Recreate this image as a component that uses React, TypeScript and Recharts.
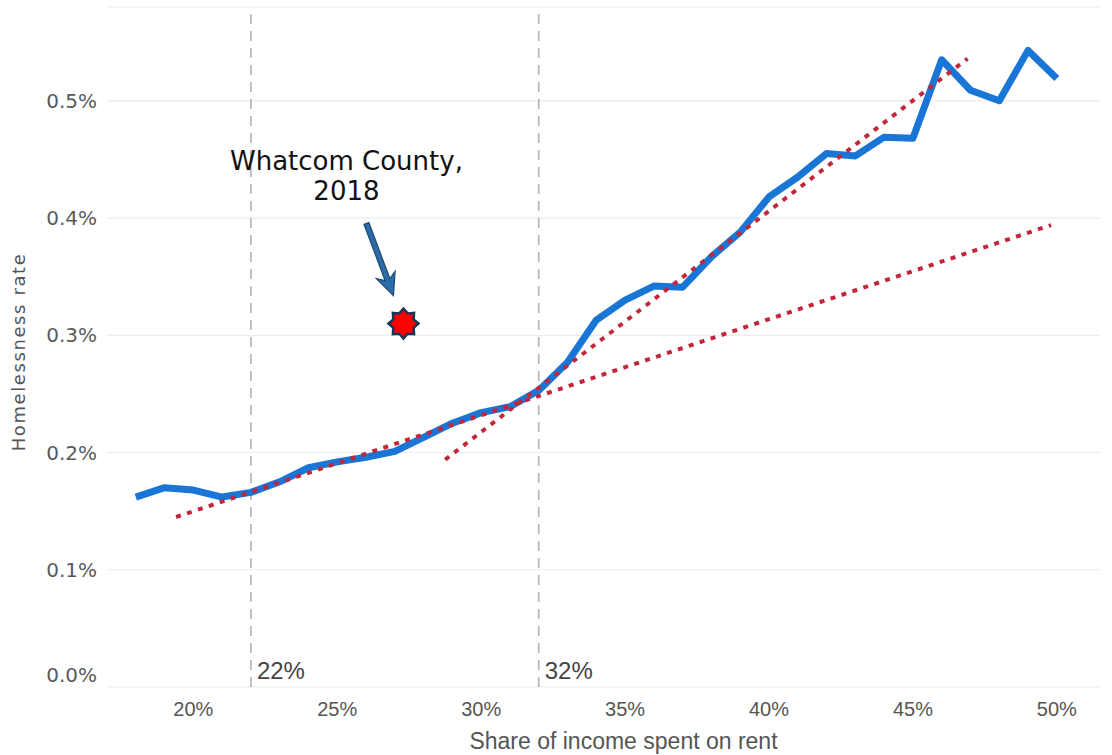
import React from "react";
import {
  ComposedChart,
  Line,
  Scatter,
  XAxis,
  YAxis,
  CartesianGrid,
  ReferenceLine,
} from "recharts";

// share of income spent on rent (%) and homelessness rate (%)
const rentShare = [
  18, 19, 20, 21, 22, 23, 24, 25, 26, 27, 28, 29, 30, 31, 32, 33, 34, 35, 36,
  37, 38, 39, 40, 41, 42, 43, 44, 45, 46, 47, 48, 49, 50,
];
const homelessRate = [
  0.162, 0.17, 0.168, 0.162, 0.166, 0.175, 0.187, 0.192, 0.196, 0.201, 0.213,
  0.225, 0.234, 0.239, 0.253, 0.277, 0.313, 0.33, 0.342, 0.341, 0.367, 0.388,
  0.418, 0.435, 0.455, 0.453, 0.469, 0.468, 0.535, 0.509, 0.5, 0.543, 0.519,
];

// dotted trend lines (start / end)
const lowTrendX = [19.4, 49.8];
const lowTrendY = [0.145, 0.394];
const highTrendX = [28.75, 46.9];
const highTrendY = [0.194, 0.536];

const breakpoints = [22, 32];
const xTicks = [20, 25, 30, 35, 40, 45, 50];
const yTicks = [0, 0.1, 0.2, 0.3, 0.4, 0.5];

const whatcomX = 27.3;
const whatcomY = 0.31;
const whatcomLabel = ["Whatcom County,", "2018"];

const series = rentShare.map((x, i) => ({ x, y: homelessRate[i] }));
const lowTrend = lowTrendX.map((x, i) => ({ x, y: lowTrendY[i] }));
const highTrend = highTrendX.map((x, i) => ({ x, y: highTrendY[i] }));
const whatcom = [{ x: whatcomX, y: whatcomY }];

const BLUE = "#1a76d6";
const RED = "#c2263a";

function YTick({ x, y, payload }: any) {
  // ggplot-ish: bottom label sits a little higher
  const yy = payload.value === 0 ? y - 12 : y;
  return (
    <text
      x={x}
      y={yy}
      dy={7}
      textAnchor="end"
      fill="#5a5a5a"
      fontSize={20}
      fontFamily="DejaVu Sans, sans-serif"
    >
      {payload.value.toFixed(1)}%
    </text>
  );
}

function starPoints(cx: number, cy: number, ro: number, ri: number) {
  const pts: string[] = [];
  for (let i = 0; i < 16; i++) {
    const r = i % 2 === 0 ? ro : ri;
    const a = (Math.PI / 8) * i - Math.PI / 2;
    pts.push(`${cx + r * Math.cos(a)},${cy + r * Math.sin(a)}`);
  }
  return pts.join(" ");
}

function arrowPoints(tx: number, ty: number, px: number, py: number) {
  const len = Math.hypot(px - tx, py - ty);
  const dx = (px - tx) / len;
  const dy = (py - ty) / len;
  const nx = -dy;
  const ny = dx;
  const w = 2.6;
  const hw = 10;
  const hl = 22;
  const bx = px - dx * hl;
  const by = py - dy * hl;
  const nb = 5; // notch
  const p = [
    [tx + nx * w, ty + ny * w],
    [bx + dx * nb + nx * w, by + dy * nb + ny * w],
    [bx + nx * hw, by + ny * hw],
    [px, py],
    [bx - nx * hw, by - ny * hw],
    [bx + dx * nb - nx * w, by + dy * nb - ny * w],
    [tx - nx * w, ty - ny * w],
  ];
  return p.map((q) => q.join(",")).join(" ");
}

function WhatcomMarker({ cx, cy }: any) {
  if (cx == null || cy == null) return null;
  return (
    <g>
      {whatcomLabel.map((t, i) => (
        <text
          key={t}
          x={cx - 57}
          y={cy - 154 + i * 30}
          textAnchor="middle"
          fill="#111"
          fontSize={26}
          fontFamily="DejaVu Sans, sans-serif"
        >
          {t}
        </text>
      ))}
      <polygon
        points={arrowPoints(cx - 37, cy - 100, cx - 10, cy - 28)}
        fill="#2c6ba8"
        stroke="#1d4a75"
        strokeWidth={1.2}
        strokeLinejoin="miter"
      />
      <polygon
        points={starPoints(cx, cy, 15, 11)}
        fill="#ff0000"
        stroke="#1b3556"
        strokeWidth={2.5}
      />
    </g>
  );
}

export default function App() {
  return (
    <div
      style={{
        position: "absolute",
        left: 0,
        top: 0,
        width: 1112,
        height: 755,
        background: "#fff",
      }}
    >
      <ComposedChart
        width={1112}
        height={755}
        margin={{ top: 7, right: 12, bottom: 0, left: 0 }}
      >
        <CartesianGrid vertical={false} stroke="#ececec" strokeWidth={1.2} />
        <XAxis
          type="number"
          dataKey="x"
          domain={[17, 51.5]}
          ticks={xTicks}
          allowDataOverflow
          axisLine={false}
          tickLine={false}
          tickSize={0}
          tickMargin={15}
          height={68}
          tickFormatter={(v: number) => `${v}%`}
          tick={{
            fill: "#555",
            fontSize: 20,
            fontFamily: "Liberation Sans, Arial, sans-serif",
          }}
          label={({ viewBox }: any) => (
            <text
              x={viewBox.x + viewBox.width / 2 + 20}
              y={749}
              textAnchor="middle"
              fill="#555"
              fontSize={23}
              fontFamily="Liberation Sans, Arial, sans-serif"
            >
              Share of income spent on rent
            </text>
          )}
        />
        <YAxis
          type="number"
          dataKey="y"
          domain={[0, 0.58]}
          ticks={yTicks}
          allowDataOverflow
          width={107}
          axisLine={false}
          tickLine={false}
          tickSize={0}
          tickMargin={10}
          tick={<YTick />}
          label={() => (
            <text
              x={25}
              y={352}
              transform="rotate(-90 25 352)"
              textAnchor="middle"
              fill="#555"
              fontSize={18}
              letterSpacing={1.6}
              fontFamily="DejaVu Sans, sans-serif"
            >
              Homelessness rate
            </text>
          )}
        />
        {breakpoints.map((b) => (
          <ReferenceLine
            key={b}
            x={b}
            stroke="#b3b3b3"
            strokeWidth={1.6}
            strokeDasharray="10 7"
            label={({ viewBox }: any) => (
              <text
                x={viewBox.x + 6}
                y={viewBox.y + viewBox.height - 8}
                fill="#444"
                fontSize={24}
                fontFamily="Liberation Sans, Arial, sans-serif"
              >
                {b}%
              </text>
            )}
          />
        ))}
        <Line
          data={series}
          dataKey="y"
          type="linear"
          stroke={BLUE}
          strokeWidth={7}
          strokeLinejoin="round"
          dot={false}
          activeDot={false}
          isAnimationActive={false}
        />
        <Line
          data={lowTrend}
          dataKey="y"
          type="linear"
          stroke={RED}
          strokeWidth={4}
          strokeDasharray="5 6.5"
          dot={false}
          activeDot={false}
          isAnimationActive={false}
        />
        <Line
          data={highTrend}
          dataKey="y"
          type="linear"
          stroke={RED}
          strokeWidth={4}
          strokeDasharray="5 6.5"
          dot={false}
          activeDot={false}
          isAnimationActive={false}
        />
        <Scatter
          data={whatcom}
          dataKey="y"
          shape={<WhatcomMarker />}
          isAnimationActive={false}
        />
      </ComposedChart>
    </div>
  );
}
